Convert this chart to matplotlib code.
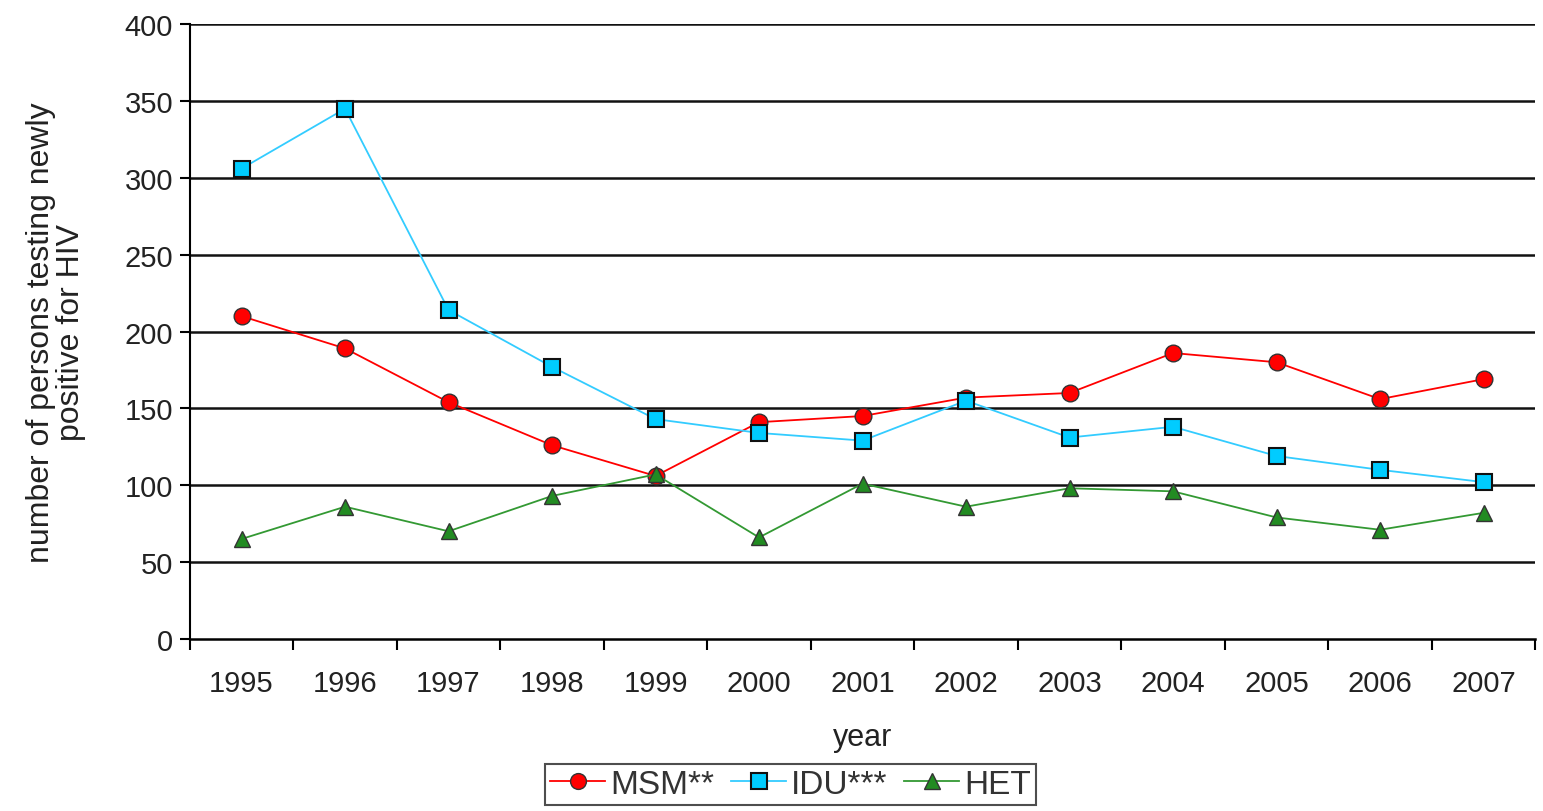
import matplotlib
matplotlib.use("Agg")
import matplotlib.pyplot as plt
import numpy as np

years = ["1995", "1996", "1997", "1998", "1999", "2000", "2001",
         "2002", "2003", "2004", "2005", "2006", "2007"]
msm = [210, 189, 154, 126, 106, 141, 145, 157, 160, 186, 180, 156, 169]
idu = [306, 345, 214, 177, 143, 134, 129, 155, 131, 138, 119, 110, 102]
het = [65, 86, 70, 93, 107, 66, 101, 86, 98, 96, 79, 71, 82]
yticks = [0, 50, 100, 150, 200, 250, 300, 350, 400]

plt.rcParams['font.family'] = ['Liberation Sans', 'DejaVu Sans']

fig = plt.figure(figsize=(15.43, 8.12), dpi=100)
ax = fig.add_axes([0.123, 0.212, 0.872, 0.757])

x = np.arange(len(years))
ax.plot(x, msm, color='#ff0000', lw=1.3, marker='o', ms=12,
        mfc='#ff0000', mec='#333333', mew=1.0, label='MSM**', zorder=3)
ax.plot(x, idu, color='#33ccff', lw=1.3, marker='s', ms=12,
        mfc='#00ccff', mec='#111111', mew=1.5, label='IDU***', zorder=3)
ax.plot(x, het, color='#339933', lw=1.3, marker='^', ms=12,
        mfc='#228b22', mec='#333333', mew=1.0, label='HET', zorder=3)

ax.set_xlim(-0.5, len(years) - 0.5)
ax.set_ylim(0, 400)
ax.set_yticks(yticks)
ax.tick_params(axis='y', labelsize=21, length=7, width=1.5, direction='out', pad=5,
               labelcolor='#222222')
ax.set_xticks(x)
ax.set_xticklabels(years)
ax.tick_params(axis='x', which='major', labelsize=21, length=0, pad=22,
               labelcolor='#222222')
ax.set_xticks(np.arange(-0.5, len(years), 1.0), minor=True)
ax.tick_params(axis='x', which='minor', length=8, width=1.5, direction='out')

for yv in yticks[1:]:
    ax.axhline(yv, color='#111111', lw=1.8, zorder=1)

for s in ['top', 'right']:
    ax.spines[s].set_visible(False)
ax.spines['left'].set_linewidth(1.5)
ax.spines['bottom'].set_linewidth(1.8)

ax.set_xlabel('year', fontsize=22, labelpad=18, color='#222222')
ax.set_ylabel('number of persons testing newly\npositive for HIV', fontsize=23,
              labelpad=28, color='#222222', linespacing=1.0)

leg = fig.legend(loc='upper center', bbox_to_anchor=(0.5125, 0.058), ncol=3,
                 fontsize=24, frameon=True, fancybox=False, edgecolor='#222222',
                 handlelength=1.65, handletextpad=0.15, columnspacing=0.5,
                 borderpad=0.15, markerscale=0.95, borderaxespad=0)
leg.get_frame().set_linewidth(1.5)
for t in leg.get_texts():
    t.set_color('#333333')

fig.savefig('out.png', dpi=100)
